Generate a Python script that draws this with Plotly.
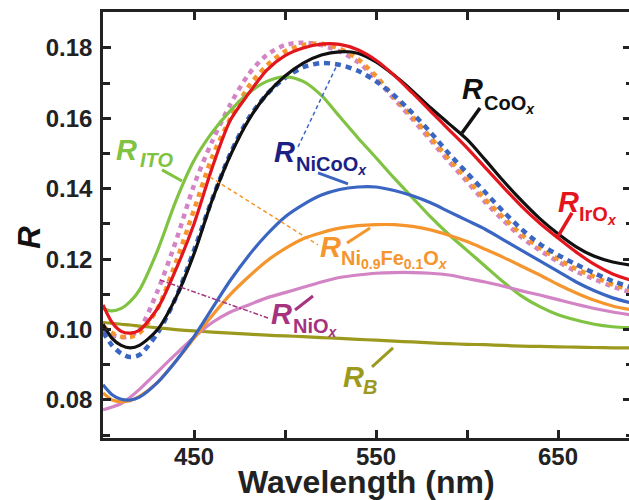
import plotly.graph_objects as go

# ---------------- data ----------------
wl = [400, 405, 410, 415, 420, 430, 440, 450, 460, 470, 480, 490, 500, 510, 520,
      530, 540, 550, 560, 570, 580, 590, 600, 610, 620, 630, 640, 650, 660, 670, 680, 690]

R_CoOx = [0.1015, 0.0975, 0.0955, 0.0948, 0.0955, 0.1000, 0.1090, 0.1215, 0.1368, 0.1495,
          0.1595, 0.1668, 0.1720, 0.1757, 0.1780, 0.1789, 0.1785, 0.1760, 0.1722, 0.1678,
          0.1630, 0.1585, 0.1540, 0.1482, 0.1422, 0.1366, 0.1315, 0.1272, 0.1235, 0.1208,
          0.1192, 0.1183]
R_IrOx = [0.1070, 0.1020, 0.0995, 0.0990, 0.0998, 0.1060, 0.1170, 0.1300, 0.1460, 0.1595,
          0.1670, 0.1737, 0.1778, 0.1800, 0.1811, 0.1810, 0.1795, 0.1765, 0.1722, 0.1672,
          0.1620, 0.1568, 0.1516, 0.1460, 0.1404, 0.1350, 0.1302, 0.1260, 0.1220, 0.1185,
          0.1158, 0.1140]
R_NiCoOx = [0.0843, 0.0815, 0.0802, 0.0800, 0.0808, 0.0850, 0.0910, 0.0980, 0.1060, 0.1140,
            0.1210, 0.1270, 0.1320, 0.1355, 0.1382, 0.1398, 0.1405, 0.1405, 0.1395, 0.1380,
            0.1360, 0.1335, 0.1310, 0.1285, 0.1255, 0.1225, 0.1195, 0.1165, 0.1135, 0.1110,
            0.1090, 0.1076]
R_NiFeOx = [0.0820, 0.0800, 0.0795, 0.0798, 0.0810, 0.0850, 0.0910, 0.0975, 0.1040, 0.1100,
            0.1150, 0.1195, 0.1230, 0.1258, 0.1275, 0.1288, 0.1295, 0.1298, 0.1298, 0.1293,
            0.1283, 0.1268, 0.1250, 0.1228, 0.1205, 0.1180, 0.1155, 0.1128, 0.1104, 0.1083,
            0.1067, 0.1056]
R_NiOx = [0.0772, 0.0780, 0.0790, 0.0808, 0.0830, 0.0880, 0.0930, 0.0978, 0.1020, 0.1050,
          0.1070, 0.1090, 0.1105, 0.1120, 0.1135, 0.1148, 0.1155, 0.1160, 0.1162, 0.1162,
          0.1160, 0.1155, 0.1145, 0.1135, 0.1123, 0.1110, 0.1098, 0.1085, 0.1072, 0.1060,
          0.1050, 0.1042]
R_ITO = [0.1060, 0.1053, 0.1060, 0.1080, 0.1112, 0.1225, 0.1365, 0.1480, 0.1560, 0.1622,
         0.1672, 0.1705, 0.1718, 0.1705, 0.1665, 0.1605, 0.1545, 0.1488, 0.1430, 0.1375,
         0.1320, 0.1270, 0.1225, 0.1180, 0.1135, 0.1095, 0.1065, 0.1042, 0.1027, 0.1015,
         0.1008, 0.1005]
R_B = [0.1020, 0.1018, 0.1015, 0.1013, 0.1010, 0.1005, 0.1000, 0.0996, 0.0993, 0.0990,
       0.0987, 0.0984, 0.0982, 0.0980, 0.0977, 0.0975, 0.0972, 0.0970, 0.0967, 0.0965,
       0.0962, 0.0960, 0.0958, 0.0957, 0.0955, 0.0953, 0.0952, 0.0951, 0.0950, 0.0949,
       0.0948, 0.0948]
R_dot_blue = [0.0993, 0.0955, 0.0932, 0.0922, 0.0928, 0.0990, 0.1090, 0.1225, 0.1370, 0.1500,
              0.1600, 0.1668, 0.1715, 0.1745, 0.1757, 0.1752, 0.1735, 0.1705, 0.1665, 0.1615,
              0.1560, 0.1500, 0.1445, 0.1390, 0.1335, 0.1285, 0.1243, 0.1212, 0.1185, 0.1160,
              0.1138, 0.1120]
R_dot_orange = [0.1010, 0.0990, 0.0980, 0.0979, 0.0990, 0.1060, 0.1190, 0.1340, 0.1490, 0.1600,
                0.1690, 0.1750, 0.1790, 0.1808, 0.1812, 0.1798, 0.1768, 0.1720, 0.1660, 0.1605,
                0.1545, 0.1485, 0.1428, 0.1370, 0.1318, 0.1270, 0.1232, 0.1200, 0.1172, 0.1150,
                0.1128, 0.1112]
R_dot_pink = [0.1000, 0.0985, 0.0978, 0.0982, 0.1000, 0.1110, 0.1250, 0.1410, 0.1535, 0.1640,
              0.1725, 0.1780, 0.1808, 0.1815, 0.1808, 0.1790, 0.1760, 0.1712, 0.1655, 0.1598,
              0.1538, 0.1478, 0.1420, 0.1362, 0.1310, 0.1262, 0.1225, 0.1193, 0.1165, 0.1143,
              0.1122, 0.1106]

x_ticks = [450, 550, 650]
y_ticks = [0.08, 0.10, 0.12, 0.14, 0.16, 0.18]
x_range = [400, 689]
y_range = [0.0692, 0.1902]


# pixel -> data helpers, used only for placing labels / leader lines
def X(px):
    return 400 + (px - 103) / 1.82


def Y(py):
    return 0.18 - (py - 48) / 3520


# ---------------- styles ----------------
C_BLACK = "#111111"
C_RED = "#e3151d"
C_BLUE = "#3a66c2"
C_NAVY = "#1c1f85"
C_ORANGE = "#f5952d"
C_PINK = "#d384c4"
C_MAGENTA = "#a5337f"
C_GREEN = "#80c342"
C_OLIVE = "#9c9a1e"

FONT = "Arial, Liberation Sans, sans-serif"

fig = go.Figure()

solid = [
    (R_B, C_OLIVE), (R_ITO, C_GREEN), (R_NiOx, C_PINK), (R_NiFeOx, C_ORANGE),
    (R_NiCoOx, C_BLUE), (R_CoOx, C_BLACK), (R_IrOx, C_RED),
]
dotted = [(R_dot_pink, C_PINK, "5px,5px"), (R_dot_orange, C_ORANGE, "5px,5px"),
          (R_dot_blue, C_BLUE, "6px,5px")]

for ys, c, d in dotted:
    fig.add_trace(go.Scatter(x=wl, y=ys, mode="lines",
                             line=dict(color=c, width=4.5, dash=d, shape="spline", smoothing=0.8),
                             showlegend=False, hoverinfo="skip"))
for ys, c in solid:
    fig.add_trace(go.Scatter(x=wl, y=ys, mode="lines",
                             line=dict(color=c, width=3.2, shape="spline", smoothing=0.8),
                             showlegend=False, hoverinfo="skip"))

# leader lines in pixel positions: (px0, py0, px1, py1, color, dash, width)
leaders = [
    (162, 170, 182, 181, C_GREEN, "solid", 3),
    (347, 243, 370, 228, C_ORANGE, "solid", 3),
    (318, 173, 348, 184, C_BLUE, "solid", 3),
    (295, 310, 313, 296, C_MAGENTA, "solid", 3),
    (372, 367, 393, 348, C_OLIVE, "solid", 3),
    (462, 133, 480, 108, C_BLACK, "solid", 3.5),
    (557, 238, 572, 213, C_RED, "solid", 3.5),
    (210, 177, 318, 245, C_ORANGE, "4px,3px", 1.5),
    (298, 147, 338, 63, C_BLUE, "4px,3px", 1.5),
    (160, 280, 268, 318, C_MAGENTA, "5px,2px,2px,2px", 1.5),
]
for p0, q0, p1, q1, c, d, w in leaders:
    fig.add_trace(go.Scatter(x=[X(p0), X(p1)], y=[Y(q0), Y(q1)], mode="lines",
                             line=dict(color=c, width=w, dash=d),
                             showlegend=False, hoverinfo="skip"))

# invisible trace to host the right-side tick axis
fig.add_trace(go.Scatter(x=[None], y=[None], yaxis="y2", showlegend=False, hoverinfo="skip"))

# labels in pixels: (R centre x, R centre y, sub left x, sub centre y, sub text, colour)
labels = [
    (126, 150, 138, 160, "<i>ITO</i>", C_GREEN),
    (284, 152, 294, 166, "NiCoO<sub><i>x</i></sub>", C_NAVY),
    (472, 89, 482, 105, "CoO<sub><i>x</i></sub>", C_BLACK),
    (568, 202, 577, 216, "IrO<sub><i>x</i></sub>", C_RED),
    (330, 247, 339, 260, "Ni<sub>0.9</sub>Fe<sub>0.1</sub>O<sub><i>x</i></sub>", C_ORANGE),
    (281, 314, 291, 328, "NiO<sub><i>x</i></sub>", C_MAGENTA),
    (353, 377, 361, 387, "<i>B</i>", C_OLIVE),
]
for rx, ry, sx, sy, st, c in labels:
    fig.add_annotation(x=X(rx), y=Y(ry), xref="x", yref="y", text="<b><i>R</i></b>", showarrow=False,
                       font=dict(family=FONT, size=29, color=c), xanchor="center", yanchor="middle")
    fig.add_annotation(x=X(sx), y=Y(sy), xref="x", yref="y", text="<b>" + st + "</b>", showarrow=False,
                       font=dict(family=FONT, size=20, color=c), xanchor="left", yanchor="middle")

# axis titles
fig.add_annotation(x=-0.139, y=0.472, xref="paper", yref="paper", text="<b><i>R</i></b>", showarrow=False,
                   textangle=-90, font=dict(family=FONT, size=31, color=C_BLACK),
                   xanchor="center", yanchor="middle")
fig.add_annotation(x=0.501, y=-0.103, xref="paper", yref="paper", text="<b>Wavelength (nm)</b>",
                   showarrow=False, font=dict(family=FONT, size=32, color="#222222"),
                   xanchor="center", yanchor="middle")

minor_y = [0.07, 0.09, 0.11, 0.13, 0.15, 0.17, 0.19]
fig.update_layout(
    width=629, height=500,
    margin=dict(l=103, r=0, t=12, b=62),
    paper_bgcolor="white", plot_bgcolor="white",
    showlegend=False,
    xaxis=dict(range=x_range, tickvals=x_ticks, ticks="inside", ticklen=8, tickwidth=2.5, tickcolor="#222",
               showline=True, linewidth=2.5, linecolor="#222", mirror="allticks", showgrid=False,
               zeroline=False, tickfont=dict(family=FONT, size=24, color="#222", weight="bold"),
               ticklabelstandoff=-5,
               minor=dict(tickvals=[500, 600], ticks="inside", ticklen=4, tickwidth=2.5, tickcolor="#222")),
    yaxis=dict(range=y_range, tickvals=y_ticks, tickformat=".2f", ticks="inside", ticklen=8, tickwidth=2.5,
               tickcolor="#222", showline=True, linewidth=2.5, linecolor="#222", mirror=False,
               showgrid=False, zeroline=False,
               tickfont=dict(family=FONT, size=24, color="#222", weight="bold"), ticklabelstandoff=3,
               minor=dict(tickvals=minor_y, ticks="inside", ticklen=7, tickwidth=2.5, tickcolor="#222")),
    yaxis2=dict(range=y_range, overlaying="y", side="right", tickvals=y_ticks, ticks="inside", ticklen=6,
                tickwidth=2.5, tickcolor="#222", showticklabels=False, showline=False, showgrid=False,
                zeroline=False,
                minor=dict(tickvals=minor_y, ticks="inside", ticklen=3, tickwidth=2.5, tickcolor="#222")),
)

fig.write_html("out.html")
